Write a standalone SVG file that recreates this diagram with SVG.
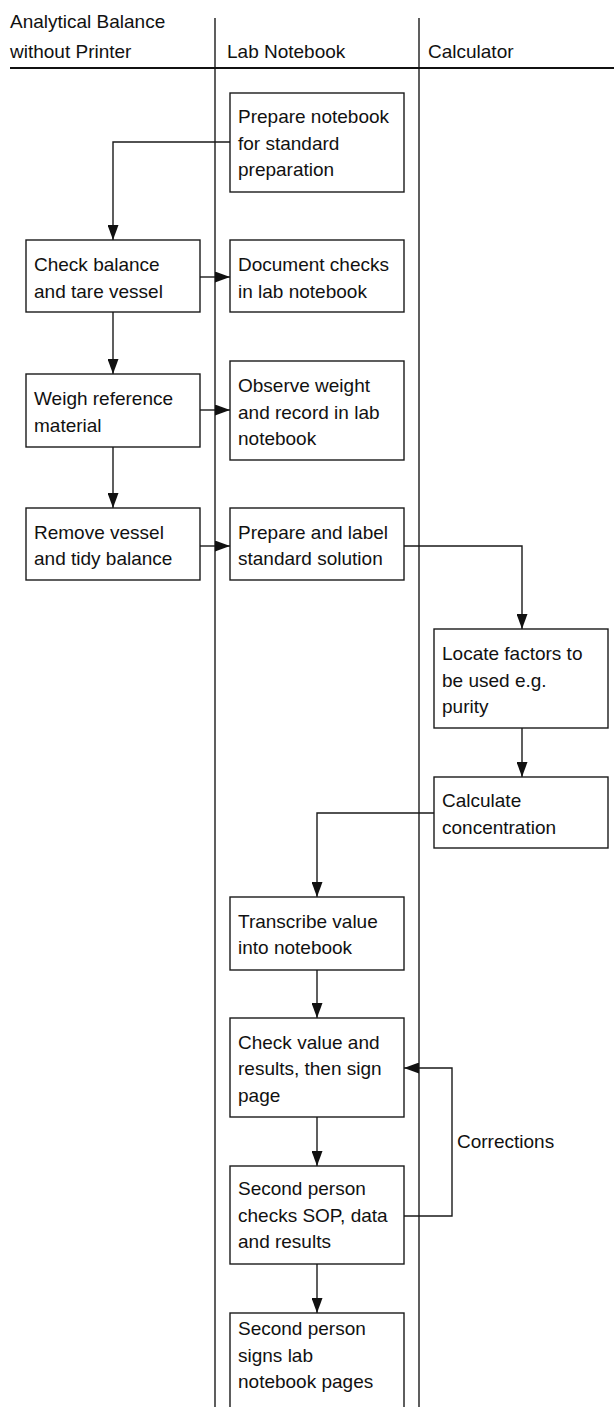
<svg xmlns="http://www.w3.org/2000/svg" width="614" height="1407" viewBox="0 0 614 1407">
<style>
text{font-family:"Liberation Sans",Arial,sans-serif;font-size:19px;fill:#111}
.box{fill:#fff;stroke:#1a1a1a;stroke-width:1.4}
.lane{stroke:#1a1a1a;stroke-width:1.4;fill:none}
.conn{stroke:#1a1a1a;stroke-width:1.4;fill:none;marker-end:url(#arr)}
</style>
<defs>
<marker id="arr" viewBox="0 0 15 11" refX="15" refY="5.5" markerWidth="15" markerHeight="11" markerUnits="userSpaceOnUse" orient="auto">
<path d="M0,0 L15,5.5 L0,11 z" fill="#111"/>
</marker>
</defs>
<rect width="614" height="1407" fill="#fff"/>
<g id="lanes">
<line class="lane" x1="215" y1="18" x2="215" y2="1407"/>
<line class="lane" x1="419" y1="18" x2="419" y2="1407"/>
<line x1="10" y1="68" x2="614" y2="68" stroke="#111" stroke-width="2.2"/>
<text x="10" y="28">Analytical Balance</text>
<text x="10" y="58">without Printer</text>
<text x="227" y="58">Lab Notebook</text>
<text x="428" y="58">Calculator</text>
</g>
<g id="connectors">
<path class="conn" d="M230,142 H113 V240"/>
<path class="conn" d="M200,277 H230"/>
<path class="conn" d="M113,312 V374"/>
<path class="conn" d="M200,410 H230"/>
<path class="conn" d="M113,447 V508"/>
<path class="conn" d="M200,546 H230"/>
<path class="conn" d="M404,546 H522 V629"/>
<path class="conn" d="M522,728 V777"/>
<path class="conn" d="M434,813 H317 V897"/>
<path class="conn" d="M317,970 V1018"/>
<path class="conn" d="M317,1117 V1166"/>
<path class="conn" d="M404,1216 H452 V1068 H404"/>
<path class="conn" d="M317,1264 V1313"/>
<text x="457" y="1148">Corrections</text>
</g>
<g id="n1"><rect class="box" x="230" y="93" width="174" height="99"/>
<text x="238" y="123">Prepare notebook</text><text x="238" y="149.5">for standard</text><text x="238" y="176">preparation</text></g>
<g id="n2"><rect class="box" x="26" y="240" width="174" height="72"/>
<text x="34" y="271">Check balance</text><text x="34" y="297.5">and tare vessel</text></g>
<g id="n3"><rect class="box" x="230" y="240" width="174" height="72"/>
<text x="238" y="271">Document checks</text><text x="238" y="297.5">in lab notebook</text></g>
<g id="n4"><rect class="box" x="26" y="374" width="174" height="73"/>
<text x="34" y="405">Weigh reference</text><text x="34" y="431.5">material</text></g>
<g id="n5"><rect class="box" x="230" y="361" width="174" height="99"/>
<text x="238" y="392">Observe weight</text><text x="238" y="418.5">and record in lab</text><text x="238" y="445">notebook</text></g>
<g id="n6"><rect class="box" x="26" y="508" width="174" height="72"/>
<text x="34" y="538.5">Remove vessel</text><text x="34" y="565">and tidy balance</text></g>
<g id="n7"><rect class="box" x="230" y="508" width="174" height="72"/>
<text x="238" y="538.5">Prepare and label</text><text x="238" y="565">standard solution</text></g>
<g id="n8"><rect class="box" x="434" y="629" width="174" height="99"/>
<text x="442" y="660">Locate factors to</text><text x="442" y="686.5">be used e.g.</text><text x="442" y="713">purity</text></g>
<g id="n9"><rect class="box" x="434" y="777" width="174" height="71"/>
<text x="442" y="807">Calculate</text><text x="442" y="833.5">concentration</text></g>
<g id="n10"><rect class="box" x="230" y="897" width="174" height="73"/>
<text x="238" y="927.5">Transcribe value</text><text x="238" y="954">into notebook</text></g>
<g id="n11"><rect class="box" x="230" y="1018" width="174" height="99"/>
<text x="238" y="1048.5">Check value and</text><text x="238" y="1075">results, then sign</text><text x="238" y="1101.5">page</text></g>
<g id="n12"><rect class="box" x="230" y="1166" width="174" height="98"/>
<text x="238" y="1195">Second person</text><text x="238" y="1221.5">checks SOP, data</text><text x="238" y="1248">and results</text></g>
<g id="n13"><rect class="box" x="230" y="1313" width="174" height="110"/>
<text x="238" y="1335">Second person</text><text x="238" y="1361.5">signs lab</text><text x="238" y="1388">notebook pages</text></g>
</svg>
